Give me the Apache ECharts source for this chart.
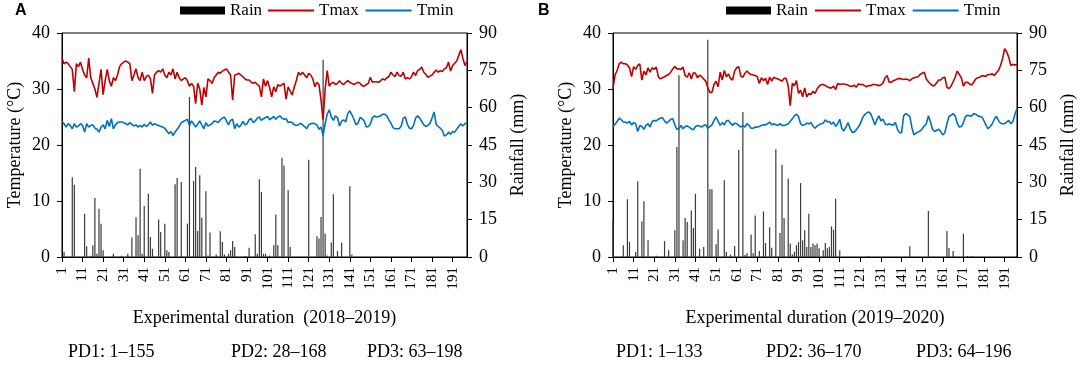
<!DOCTYPE html>
<html>
<head>
<meta charset="utf-8">
<script src="https://cdn.jsdelivr.net/npm/echarts@6/dist/echarts.min.js"></script>
<style>
  html, body { margin: 0; padding: 0; background: #fff; }
  #chart { width: 1084px; height: 365px; }
</style>
</head>
<body>
<div id="chart"></div>
<script>
// Panel A (2018-2019), days 1..198
const tmaxA = [35.5,34.5,34.8,34.5,34,33.5,29.5,34.5,34,34.8,
  33.5,32.5,32,35.5,32,31,30,28.5,31,33.5,
  29,31.5,33.5,31.5,30.5,32,31.5,32.5,34,34.5,
  34.8,35,34.8,34.5,31.5,32.5,33.6,32,31.5,33,
  31.5,32.2,32.5,31.8,29.2,32.5,33,33.3,33,33.6,
  32.5,32,33,32.5,33.6,31.8,33,32,31.5,31.8,
  32,31.5,30.5,31,30.5,27.4,31,30,27.1,30.3,
  28.6,31.8,31.5,31,32,32.5,33,32.8,33.2,33.4,
  33.6,33,32.5,28,32.5,32.6,32.8,32.5,32.2,31.8,
  31.6,31.6,31.2,31,31.2,30.8,30.5,28.6,31.8,30.5,
  31.5,30.2,28.6,30.4,29.5,30.8,30.5,30.8,31,28.2,
  30.4,29.6,28.9,30.4,31.5,33,32.5,33,32.5,32,
  32.8,32.5,31.8,30.4,31.2,30.8,28,24.5,30,33.3,
  30.5,31,31.2,30.8,31,31.5,31,30.8,31.2,31.5,
  31.2,31,30.8,31,31.2,31,30.6,30.5,30.8,31,
  32.1,31.2,31.3,31.3,31.2,31.5,31.8,31.6,32,32.2,
  33,32.5,32.2,33,32.4,32.3,33,31.8,32,31.8,
  32.2,33,32.4,33.3,33.5,33.9,33,32.6,32.1,32.3,
  32.5,33,33.4,33,33.3,33.1,33.6,33.8,34.8,33.2,
  34.2,34.6,35,36,37,35.5,34.2,34.8];
const tminA = [24.2,23.8,23.2,23.8,23.5,22.9,23.8,23.2,23.4,23.8,
  23.5,22.3,23.8,23.2,23.5,23.6,23,22.8,22.3,23.2,
  23.6,22.9,24.4,23.3,24.7,22.9,23.6,24,24.1,24.1,
  24,23.8,23.6,24,23.7,23.4,23.6,23.2,23.5,23.2,
  23.7,23.3,23.6,24.1,23.5,23.8,23.6,23.5,23.3,23.2,
  23,22.5,22,22.4,21.7,22.3,22.8,23.3,24,24.2,
  24.4,24.6,23.5,24.3,23.8,23.2,23.7,24.3,23.6,22.9,
  24,23.4,23.6,23.8,24.3,24.2,24,24.5,24.8,25,
  24.3,23.6,24.4,24.6,22.9,23.8,23.2,23.5,24.2,23.6,
  23.8,24.5,24.7,24,24.3,24.8,25,24.4,24.7,24.9,
  25.1,24.5,24.8,25.1,24.6,25,25.2,24.8,24.6,24.7,
  24,24.1,24,23.6,23.5,23.6,23.9,23.6,23.3,22.9,
  23.6,23.8,23.9,23.8,23.6,22.8,23.2,21.7,23.8,25.5,
  26.3,25,24.4,25.2,24.9,23.4,24.2,24.5,24.1,25.6,
  26.1,25.4,24.6,23.6,23.9,24.9,24.7,24.3,23.2,23.3,
  23.7,24.9,25.2,25,25.1,25.2,25.5,25.5,25.2,24.5,
  23.9,23.1,22.9,22.9,22.9,23.4,24.8,25,23.7,23,
  22.9,23.5,24.8,25.2,24.8,24.2,23.6,23.3,23.5,23.9,
  24.8,25.9,23.7,23.3,23,22.6,21.6,21.8,22.3,21.9,
  22.4,22.3,22.8,23.3,23.8,23.4,23.8,24];
const rainDaysA = [2,6,7,12,13,15,16,17,18,19,20,21,26,30,33,35,37,38,39,40,
  41,43,44,45,48,49,51,52,53,56,57,59,62,63,65,66,67,68,69,71,
  72,73,76,78,79,80,82,83,84,85,90,92,95,96,97,98,99,100,102,104,
  105,106,108,109,111,112,121,125,126,127,128,129,130,132,133,135,137,141,142];
const rainMmA = [2,32,29,17.4,4.3,0.5,4.7,23.7,1.3,19.4,13.4,2.7,1.3,0.5,1.3,7.8,16,8.7,35.5,1.3,
  20.5,25.4,8,3.3,15.1,10,13.4,2.7,2,29.2,31.7,30.1,13.4,64.3,30.5,36.2,10.4,32.8,15.8,26.4,
  0.6,9.8,1,10.3,6,1,1.3,2.7,6.4,4,0.4,3.7,9.1,1.3,31.2,26.1,1.3,1.3,0.6,4.7,
  17.1,4.7,39.9,36.8,26.8,4,39.1,8.3,7.4,16.1,79.3,9.4,0.6,5.8,25.2,2.4,5.8,28.4,1];

// Panel B (2019-2020), days 1..197
const tmaxB = [30.1,32.5,33.3,34.5,34.8,34.5,34.5,34.3,33.8,32.2,
  34,33.5,34.2,34.5,31.6,33.2,32.5,33.8,33,33.8,
  33.5,33.9,32.2,31.8,32,32.2,32.4,32.6,33,33.6,
  34,33.6,33.6,33.5,33.9,32.4,32.1,32.9,31.8,32.9,
  32.8,32,32.5,32.2,31.8,31.4,30.2,29.4,29.4,30.8,
  31.4,30.4,33,31.6,33.3,32.2,32.7,31.9,31.6,33.2,
  33.8,34,32.3,32.1,32.8,33.2,32.8,32.6,32.5,32.4,
  32.2,31,32,31.5,31.9,30.8,32.1,31.4,32.1,31.9,
  31.8,31.6,31.4,31.9,31.9,30.5,27,31,30.6,31.5,
  29.2,29.8,28.6,30.2,28.6,29.2,29,29.6,29.2,30,
  30.5,30.8,30.8,30.6,30.4,30.2,30.2,30.5,29.9,31,
  30.8,30.9,30.9,30.8,30.7,30.5,30.5,30.7,30.3,30.9,
  30.8,30.8,30.6,30.4,30.6,30.6,30.8,30.8,30.7,30.6,
  30.7,31.1,32,32.4,31.2,31.2,31.5,31.6,31.8,31.9,
  31.8,31.7,31.8,31.7,31.5,31.8,32,32.1,32.2,32.6,
  32.8,33,31.8,31.3,30.9,30.6,30.6,31.1,31.6,31.6,
  32,32.1,30.3,30.1,30.5,31.3,32.1,33.2,32.6,32,
  30.5,31.2,31.2,30.9,30.7,31.2,31.8,32,32.1,32.4,
  32.3,32.3,32.6,32.6,32.7,32.4,32.9,33.3,34.2,35.4,
  37.2,36.6,35.7,34.2,34.4,34.3,34.3];
const tminB = [23.3,23.7,24.2,24.8,24.5,24.1,24.1,23.9,24.2,23.6,
  24,23.8,22.4,23.5,23.3,22.8,23.5,23.8,23.2,24.2,
  24.4,24.3,24.6,24.8,24.9,24.3,23.9,24.2,24.6,24.7,
  23.6,22.8,22.9,23.5,22.9,23.3,23.4,23.2,22.9,22.7,
  23.3,23.5,23.4,23.2,23.5,23.6,23,23.3,23.6,24.4,
  25,24.2,23.5,24,23.6,24.3,24.4,23.9,23.5,23.9,
  23.8,23.5,23.2,23.5,23.2,23.8,23.5,23,23,23.2,
  23.2,23.3,23.5,23.6,23.6,23.8,24.1,23.6,23.8,23.6,
  23.5,23.8,23.5,23.5,23.6,23.8,24.2,24.7,25.2,25.5,
  25.1,23.8,23.5,23.6,23.9,23.8,24,23.4,23,23.4,
  23.6,23.8,23.9,24.5,24.1,24.2,23.7,24.1,23.3,23.8,
  24.6,23,22.5,23.2,24,23,22.3,22.3,22.7,23.2,
  23.8,24.8,25.4,25.7,25.9,25.6,24.7,23.6,24.5,25.2,
  24.3,24.6,23.8,23.6,23.8,23.6,23.6,24,22.8,22.2,
  22.2,25.2,25.6,25.4,25.1,23.1,21.8,22.1,22.3,22.5,
  22.9,23.4,23.8,25.2,24.2,22.8,22.4,22.6,22.8,22.4,
  21.8,22.2,23.8,25.1,25.3,25.6,25.2,23.9,23.2,23.3,
  24,25.1,25.3,25.2,25.2,25.6,25.5,25.2,25.1,25,
  24.3,23.5,22.9,23.3,23.8,24.6,25.1,24.4,23.9,23.8,
  23.8,24.1,24.4,23.8,24.2,25.5,26.5];
const rainDaysB = [1,6,8,9,12,13,15,16,18,22,26,28,31,32,33,35,36,37,39,40,
  41,43,45,47,48,49,51,52,55,56,58,60,62,64,65,66,68,69,70,72,
  74,75,77,78,80,82,83,84,86,87,88,89,90,91,92,93,94,95,96,97,
  98,99,100,101,103,104,105,106,107,108,109,111,125,145,154,163,164,166,171,173,175];
const rainMmB = [14.3,4.7,23.2,6,2,30.4,14.3,22.4,6.7,0.5,6.4,2.7,10.7,44.2,73,6.7,15.7,14.1,18.7,11.7,
  25.4,3.3,4,87.3,27.2,27.2,5.1,11,30.8,2,1,4.4,43.1,58.3,0.8,1.5,9,1.5,16.7,2.4,
  18.3,5.6,12,3.7,43.3,9.6,37.1,15.7,31.5,5.4,1,2,4.7,6,29.7,6.7,10.7,4,17.4,4,
  5.4,4.7,5.4,3.5,2.7,5.6,3.5,4,12.3,11,23.4,2.7,0.4,4.3,18.5,10.4,3.6,2.4,9.4,0.4,0.4];

const serif = '"Liberation Serif", "Times New Roman", serif';
const daysA = tmaxA.map((v, i) => String(i + 1));
const daysB = tmaxB.map((v, i) => String(i + 1));

function rainSeriesData(days, rainDays, rainMm) {
    return days.map(function (d) {
        let k = rainDays.indexOf(Number(d));
        return k >= 0 ? rainMm[k] : null;
    });
}

function xAxisFor(gridIndex, days, title) {
    return {
        type: 'category', gridIndex: gridIndex, data: days, boundaryGap: false,
        axisLine: {lineStyle: {color: '#000', width: 1}},
        axisTick: {interval: 9, length: 5, lineStyle: {color: '#000'}},
        axisLabel: {interval: 9, rotate: 90, margin: 10, color: '#000', fontFamily: serif, fontSize: 15},
        splitLine: {show: false},
        name: title, nameLocation: 'middle', nameGap: 52,
        nameTextStyle: {color: '#000', fontFamily: serif, fontSize: 18}
    };
}

function yTempAxis(gridIndex) {
    return {
        type: 'value', gridIndex: gridIndex, position: 'left', min: 0, max: 40, interval: 10,
        axisLine: {show: true, lineStyle: {color: '#000'}},
        axisTick: {show: true, length: 5, lineStyle: {color: '#000'}},
        axisLabel: {margin: 12, color: '#000', fontFamily: serif, fontSize: 18},
        splitLine: {show: false},
        name: 'Temperature (°C)', nameLocation: 'middle', nameGap: 38, nameRotate: 90,
        nameTextStyle: {color: '#000', fontFamily: serif, fontSize: 18}
    };
}

function yRainAxis(gridIndex) {
    return {
        type: 'value', gridIndex: gridIndex, position: 'right', min: 0, max: 90, interval: 15,
        axisLine: {show: true, lineStyle: {color: '#000'}},
        axisTick: {show: true, length: 5, lineStyle: {color: '#000'}},
        axisLabel: {margin: 12, color: '#000', fontFamily: serif, fontSize: 18},
        splitLine: {show: false},
        name: 'Rainfall (mm)', nameLocation: 'middle', nameGap: 42, nameRotate: 90,
        nameTextStyle: {color: '#000', fontFamily: serif, fontSize: 18}
    };
}

function panelSeries(xi, yT, yR, days, tmax, tmin, rainDays, rainMm) {
    return [
        {
            name: 'Rain', type: 'bar', xAxisIndex: xi, yAxisIndex: yR,
            barWidth: 1.2, itemStyle: {color: '#3a3a3a'},
            data: rainSeriesData(days, rainDays, rainMm)
        },
        {
            name: 'Tmax', type: 'line', xAxisIndex: xi, yAxisIndex: yT,
            symbol: 'none', lineStyle: {color: '#C00000', width: 1.6}, itemStyle: {color: '#C00000'},
            data: tmax
        },
        {
            name: 'Tmin', type: 'line', xAxisIndex: xi, yAxisIndex: yT,
            symbol: 'none', lineStyle: {color: '#0070C0', width: 1.6}, itemStyle: {color: '#0070C0'},
            data: tmin
        }
    ];
}

// rain legend (thick block) and line legend (thin rules) kept apart
function rainLegend(left) {
    return {
        left: left, top: 2, padding: 0, itemWidth: 45, itemHeight: 8, itemGap: 7,
        textStyle: {color: '#000', fontFamily: serif, fontSize: 17},
        data: [{name: 'Rain', icon: 'rect', itemStyle: {color: '#000'}}]
    };
}

function lineLegend(left) {
    return {
        left: left, top: 2, padding: 0, itemWidth: 46, itemHeight: 2, itemGap: 7,
        textStyle: {color: '#000', fontFamily: serif, fontSize: 17},
        data: [
            {name: 'Tmax', icon: 'rect', itemStyle: {color: '#C00000'}},
            {name: 'Tmin', icon: 'rect', itemStyle: {color: '#0070C0'}}
        ]
    };
}

function label(text, left, top, font) {
    return {type: 'text', left: left, top: top, style: {text: text, font: font, fill: '#000'}};
}

let chart = echarts.init(document.getElementById('chart'));
chart.setOption({
    animation: false,
    backgroundColor: '#fff',
    legend: [rainLegend(180), lineLegend(268), rainLegend(726), lineLegend(815)],
    grid: [
        {left: 62, top: 33, width: 405, height: 224, show: true, borderColor: '#000', borderWidth: 1},
        {left: 613, top: 33, width: 404, height: 224, show: true, borderColor: '#000', borderWidth: 1}
    ],
    xAxis: [
        xAxisFor(0, daysA, 'Experimental duration  (2018\u20132019)'),
        xAxisFor(1, daysB, 'Experimental duration (2019\u20132020)')
    ],
    yAxis: [yTempAxis(0), yRainAxis(0), yTempAxis(1), yRainAxis(1)],
    series: panelSeries(0, 0, 1, daysA, tmaxA, tminA, rainDaysA, rainMmA)
        .concat(panelSeries(1, 2, 3, daysB, tmaxB, tminB, rainDaysB, rainMmB)),
    graphic: [
        label('A', 15, 3, 'bold 16px "Liberation Sans", Arial, sans-serif'),
        label('B', 538, 3, 'bold 16px "Liberation Sans", Arial, sans-serif'),
        label('PD1: 1\u2013155', 68, 343, '18px ' + serif),
        label('PD2: 28\u2013168', 231, 343, '18px ' + serif),
        label('PD3: 63\u2013198', 367, 343, '18px ' + serif),
        label('PD1: 1\u2013133', 616, 343, '18px ' + serif),
        label('PD2: 36\u2013170', 766, 343, '18px ' + serif),
        label('PD3: 64\u2013196', 916, 343, '18px ' + serif)
    ]
});
</script>
</body>
</html>
